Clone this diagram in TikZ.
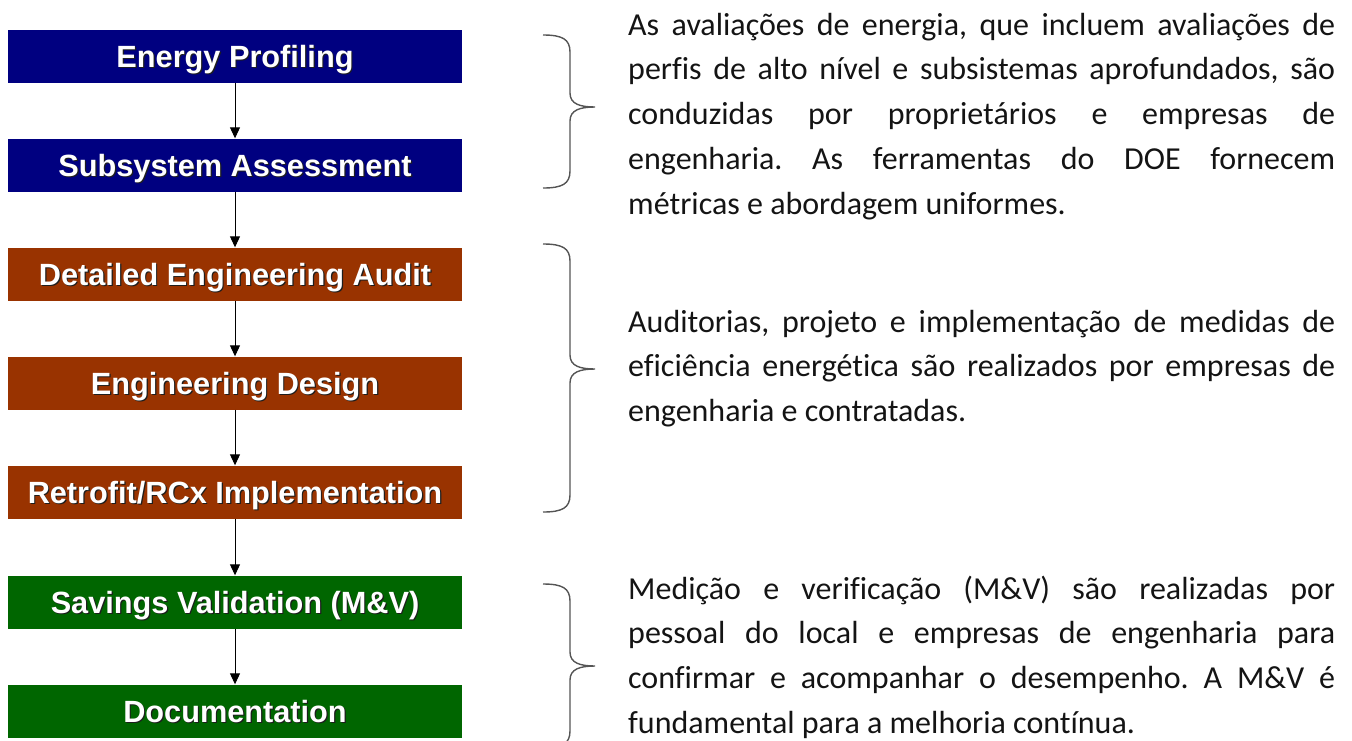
\documentclass[tikz,border=0pt]{standalone}
\usepackage{fontspec}
\setmainfont{Carlito}[Ligatures=NoCommon]
\newfontfamily\boxfont{Liberation Sans}
\usetikzlibrary{arrows.meta}
\definecolor{navyblue}{RGB}{0,0,128}
\definecolor{rustbrown}{RGB}{153,51,0}
\definecolor{darkgreen}{RGB}{0,102,0}
\definecolor{bracegray}{RGB}{85,85,85}
\definecolor{textblack}{RGB}{20,20,20}
\definecolor{shadowcol}{RGB}{30,30,30}
\hyphenpenalty=10000
\exhyphenpenalty=10000
\tolerance=10000
\hbadness=10000
\hfuzz=50pt
\frenchspacing
\newcommand\mybrace[3]{%
  \draw[bracestyle] (543,#1) .. controls (562,#1) and (570,#1+4) .. (570,#1+17)
    -- (570,#2-14) .. controls (570,#2-3) and (580,#2) .. (595,#2)
    .. controls (580,#2) and (570,#2+3) .. (570,#2+14)
    -- (570,#3-17) .. controls (570,#3-4) and (562,#3) .. (543,#3);}
\newcommand\parasetup{\fontsize{32}{44.7}\selectfont\spaceskip=.226em plus 2em minus .12em\relax}
\newcommand\shtext[1]{\makebox[0pt][l]{\hspace{1.2pt}\raisebox{-1.2pt}{\textcolor{shadowcol}{#1}}}#1}
\begin{document}
\begin{tikzpicture}[x=1pt,y=-1pt,
  stepbox/.style={minimum width=454pt, minimum height=53pt, inner sep=0pt,
    text=white, font=\boxfont\bfseries\fontsize{30.7}{36}\selectfont,
    text height=22pt, text depth=0pt},
  flow/.style={-{Triangle[length=11pt,width=10pt]}, line width=1pt, draw=black},
  bracestyle/.style={draw=bracegray, line width=1.4pt},
  para/.style={anchor=north west, inner sep=0pt, text width=707pt, align=justify,
    text=textblack, font=\parasetup}]
\useasboundingbox (0,0) rectangle (1352,740);
% boxes
\node[stepbox, fill=navyblue] (b1) at (235,56) {\shtext{Energy Profiling}};
\node[stepbox, fill=navyblue] (b2) at (235,165) {\shtext{Subsystem Assessment}};
\node[stepbox, fill=rustbrown] (b3) at (235,274) {\shtext{Detailed Engineering Audit}};
\node[stepbox, fill=rustbrown] (b4) at (235,383) {\shtext{Engineering Design}};
\node[stepbox, fill=rustbrown] (b5) at (235,492) {\shtext{Retrofit/RCx Implementation}};
\node[stepbox, fill=darkgreen] (b6) at (235,602) {\shtext{Savings Validation (M\&V)}};
\node[stepbox, fill=darkgreen] (b7) at (235,711) {\shtext{Documentation}};
% arrows
\draw[flow] (b1) -- (b2);
\draw[flow] (b2) -- (b3);
\draw[flow] (b3) -- (b4);
\draw[flow] (b4) -- (b5);
\draw[flow] (b5) -- (b6);
\draw[flow] (b6) -- (b7);
% braces
\mybrace{35}{107}{188}
\mybrace{244}{369}{512}
\mybrace{584}{666}{748}
% texts
\node[para] (p1) at (628,10) {\rule{0pt}{25pt}As avaliações de energia, que incluem avaliações de\linebreak
perfis de alto nível e subsistemas aprofundados, são\linebreak
conduzidas por proprietários e empresas de\linebreak
engenharia. As ferramentas do DOE fornecem\linebreak
métricas e abordagem uniformes.};
\node[para] (p2) at (628,307) {\rule{0pt}{25pt}Auditorias, projeto e implementação de medidas de\linebreak
eficiência energética são realizados por empresas de\linebreak
engenharia e contratadas.};
\node[para] (p3) at (628,574) {\rule{0pt}{25pt}Medição e verificação (M\&V) são realizadas por\linebreak
pessoal do local e empresas de engenharia para\linebreak
confirmar e acompanhar o desempenho. A M\&V é\linebreak
fundamental para a melhoria contínua.};
\end{tikzpicture}
\end{document}
